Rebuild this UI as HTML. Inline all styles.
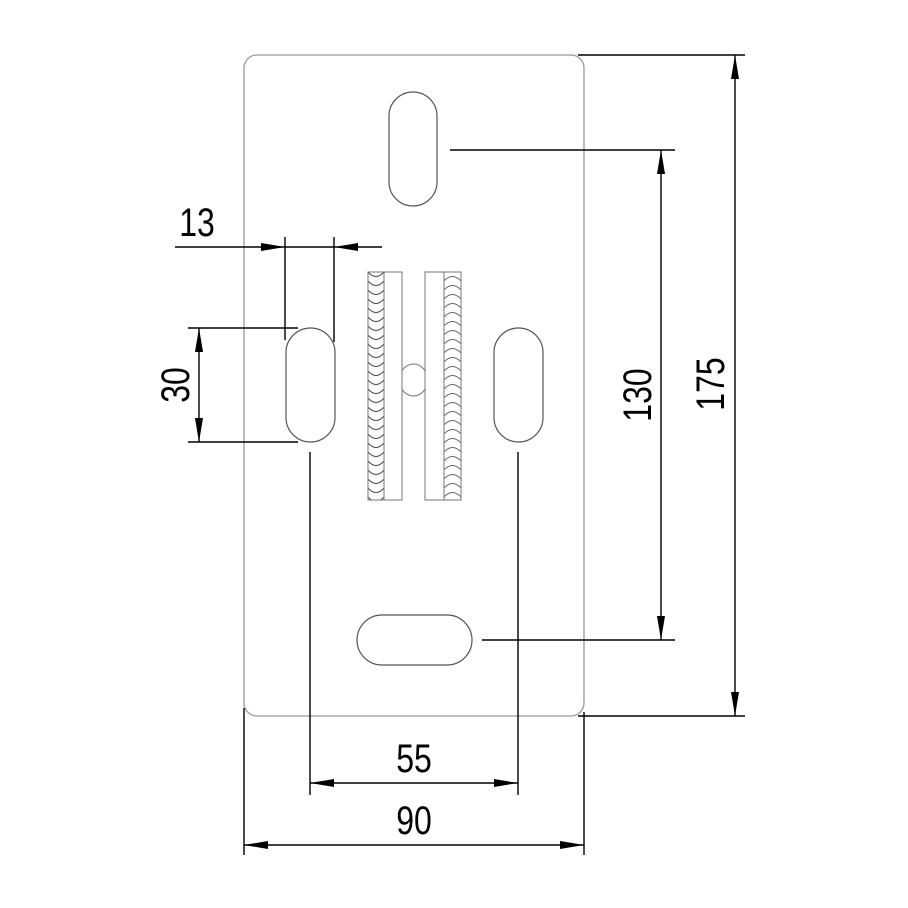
<!DOCTYPE html>
<html><head><meta charset="utf-8"><style>html,body{margin:0;padding:0;background:#fff}svg{display:block}</style></head>
<body>
<svg width="908" height="908" viewBox="0 0 908 908" xmlns="http://www.w3.org/2000/svg">
<defs>
<marker id="a" viewBox="0 0 24 8" refX="24" refY="4" markerWidth="24" markerHeight="8" markerUnits="userSpaceOnUse" orient="auto-start-reverse"><path d="M0,0 L24,4 L0,8 Z" fill="#000"/></marker>
<pattern id="wl" x="368" y="272" width="16" height="9" patternUnits="userSpaceOnUse"><path d="M0,0 Q8,9 16,0" fill="none" stroke="#444" stroke-width="1"/></pattern>
<pattern id="wr" x="444" y="272" width="17" height="9" patternUnits="userSpaceOnUse"><path d="M0,9 Q8.5,0 17,9" fill="none" stroke="#666" stroke-width="1"/></pattern>
</defs>
<g fill="none" stroke="#999" stroke-width="1.3">
<rect x="244" y="55" width="340" height="661" rx="13"/>
</g>
<g fill="none" stroke="#555" stroke-width="1.2">
<rect x="389" y="92" width="48" height="114" rx="24"/>
<rect x="286" y="328" width="49" height="114" rx="24.5"/>
<rect x="494" y="328" width="49" height="114" rx="24.5"/>
<rect x="357" y="615" width="115" height="50" rx="25"/>
</g>
<g stroke="#777" stroke-width="1">
<rect x="368" y="272" width="16" height="228" fill="url(#wl)"/>
<rect x="384" y="272" width="18" height="228" fill="none"/>
<rect x="444" y="272" width="17" height="228" fill="url(#wr)"/>
<rect x="425" y="272" width="19" height="228" fill="none"/>
<path d="M402,371 A13,13 0 0 1 425,371 M402,389 A13,13 0 0 0 425,389" fill="none"/>
</g>
<g stroke="#000" stroke-width="1.4" fill="none">
<line x1="285" y1="237" x2="285" y2="340"/>
<line x1="334" y1="237" x2="334" y2="342"/>
<line x1="175" y1="247" x2="285" y2="247" marker-end="url(#a)"/>
<line x1="285" y1="247" x2="334" y2="247"/>
<line x1="382" y1="247" x2="334" y2="247" marker-end="url(#a)"/>
<line x1="188" y1="328" x2="298" y2="328"/>
<line x1="188" y1="442" x2="298" y2="442"/>
<line x1="199" y1="328" x2="199" y2="442" marker-start="url(#a)" marker-end="url(#a)"/>
<line x1="310" y1="452" x2="310" y2="795"/>
<line x1="518" y1="452" x2="518" y2="795"/>
<line x1="310" y1="783" x2="518" y2="783" marker-start="url(#a)" marker-end="url(#a)"/>
<line x1="244" y1="708" x2="244" y2="855"/>
<line x1="584" y1="712" x2="584" y2="855"/>
<line x1="244" y1="845" x2="584" y2="845" marker-start="url(#a)" marker-end="url(#a)"/>
<line x1="450" y1="150" x2="675" y2="150"/>
<line x1="482" y1="640" x2="675" y2="640"/>
<line x1="661" y1="150" x2="661" y2="640" marker-start="url(#a)" marker-end="url(#a)"/>
<line x1="578" y1="55" x2="745" y2="55"/>
<line x1="578" y1="716" x2="745" y2="716"/>
<line x1="735" y1="55" x2="735" y2="716" marker-start="url(#a)" marker-end="url(#a)"/>
</g>
<g font-family="Liberation Sans, sans-serif" font-size="40" fill="#000" text-anchor="middle">
<text transform="translate(197,236) scale(0.8,1)">13</text>
<text transform="translate(414,772) scale(0.8,1)">55</text>
<text transform="translate(414,834) scale(0.8,1)">90</text>
<text transform="translate(189,385) rotate(-90) scale(0.8,1)">30</text>
<text transform="translate(651,395) rotate(-90) scale(0.8,1)">130</text>
<text transform="translate(724,384) rotate(-90) scale(0.8,1)">175</text>
</g>
</svg>
</body></html>
